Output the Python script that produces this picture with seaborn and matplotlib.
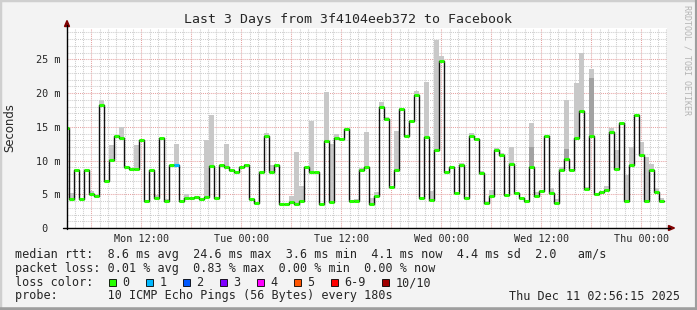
import matplotlib as mpl
mpl.use('Agg')
import matplotlib.pyplot as plt
import matplotlib.dates as mdates
import matplotlib.ticker as mticker
from matplotlib.lines import Line2D
from matplotlib.patches import Rectangle, Polygon
import numpy as np
import pandas as pd
import seaborn as sns

# median rtt per 36 min step (ms)
median_ms = [
    14.75, 4.36, 8.66, 4.36, 8.66, 5.1, 4.7, 18.3, 6.9, 10.05,
    13.7, 13.3, 9.0, 8.7, 8.75, 13.0, 4.06, 8.66, 4.4, 13.3,
    4.06, 9.36, 9.36, 4.06, 4.4, 4.4, 4.6, 4.26, 4.6, 9.16,
    4.4, 9.36, 9.0, 8.66, 8.27, 9.1, 9.4, 4.36, 3.66, 8.37,
    13.7, 8.27, 9.3, 3.6, 3.6, 3.9, 3.6, 4.06, 9.0, 8.27,
    8.27, 3.6, 12.9, 3.8, 13.4, 13.2, 14.7, 3.96, 4.06, 8.66,
    9.0, 3.6, 4.8, 18.0, 16.2, 6.1, 8.66, 17.6, 13.7, 15.8,
    19.75, 4.4, 13.5, 4.1, 11.6, 24.7, 8.27, 9.0, 5.15, 9.36,
    4.4, 13.7, 13.2, 8.2, 3.66, 4.7, 11.5, 10.8, 4.9, 9.55,
    5.15, 4.4, 3.96, 9.0, 4.8, 5.5, 13.6, 5.15, 3.66, 8.66,
    10.2, 8.66, 13.3, 17.3, 5.8, 13.7, 5.0, 5.3, 5.7, 14.3,
    8.7, 15.5, 4.06, 9.3, 16.7, 10.8, 4.06, 8.66, 5.35, 4.06,
]

# top of the light smoke (slowest ping), None where there is none
smoke_top_ms = [
    None, 5.15, 8.8, None, None, 5.5, None, 18.9, None, 12.3,
    None, 15.0, None, None, 12.3, None, None, None, 4.9, None,
    4.3, None, 12.5, None, 5.0, None, None, None, 13.07, 16.8,
    None, None, 12.5, None, None, None, 9.55, None, None, None,
    14.06, 9.36, None, None, None, 4.7, 11.3, 6.2, None, 15.8,
    None, None, 20.2, 12.5, 14.0, None, None, None, 4.3, 8.86,
    14.2, 4.5, 5.35, 18.7, 16.5, None, 14.4, 17.8, None, None,
    20.3, None, 21.7, 5.5, 27.8, 25.5, None, None, None, 9.7,
    None, 14.06, None, 8.47, 4.06, 5.6, 11.9, 11.1, None, 12.0,
    None, None, None, 15.6, 5.3, None, None, 6.0, 4.3, 9.0,
    18.9, None, 21.5, 26.0, 6.1, 23.6, None, None, 6.2, 14.8,
    11.6, 15.7, 7.9, 12.0, None, 12.8, 10.5, 9.45, 6.0, 4.45,
]

# darker inner smoke, only visible on a few steps
smoke_dark_ms = [None] * 93 + [12.0] + [None] * 6 + [11.7] + [None] * 4 + [22.3] + [None] * 14

# lost pings out of 10 per step
loss_pings = [0] * 22 + [1] + [0] * 97

loss_labels = ['0', '1', '2', '3', '4', '5', '6-9', '10/10']
loss_colors = ['#26ff00', '#00b8ff', '#0059ff', '#7e00ff', '#ff00ff', '#ff5500', '#ff0000', '#a10000']

step_end = pd.date_range('2025-12-08 03:20', periods=len(median_ms), freq='36min')
view_start = pd.Timestamp('2025-12-08 03:04')
view_end = view_start + pd.Timedelta(hours=72)

title = 'Last 3 Days from 3f4104eeb372 to Facebook'
row_rtt = 'median rtt:  8.6 ms avg  24.6 ms max  3.6 ms min  4.1 ms now  4.4 ms sd  2.0   am/s'
row_loss = 'packet loss: 0.01 % avg  0.83 % max  0.00 % min  0.00 % now'
row_probe = 'probe:       10 ICMP Echo Pings (56 Bytes) every 180s'
stamp = 'Thu Dec 11 02:56:15 2025'

W, H = 697, 310
MONO = 'DejaVu Sans Mono'


def fx(x):
    return x / W


def fy(y):
    return 1 - y / H


sns.set_style('white')
plt.rcParams['font.family'] = ['DejaVu Sans Mono', 'DejaVu Sans']

fig = plt.figure(figsize=(W / 100, H / 100), dpi=100, facecolor='#f3f3f3')
ax = fig.add_axes([fx(67), fy(228), 600 / W, 200 / H])
ax.set_facecolor('white')

x_end = mdates.date2num(step_end.to_pydatetime())
step = 36 / 1440
x_start = x_end - step
med = np.array(median_ms)

top = np.array([np.nan if v is None else v for v in smoke_top_ms])
has = ~np.isnan(top)
ax.bar(x_start[has], top[has] - med[has], bottom=med[has], width=step, align='edge',
       color='#c8c8c8', linewidth=0, zorder=2)
dark = np.array([np.nan if v is None else v for v in smoke_dark_ms])
hd = ~np.isnan(dark)
ax.bar(x_start[hd], dark[hd] - med[hd], bottom=med[hd], width=step, align='edge',
       color='#a2a2a2', linewidth=0, zorder=2)

sns.lineplot(x=np.r_[x_start[0], x_end], y=np.r_[med[0], med], drawstyle='steps-pre',
             color='#111111', linewidth=1.0, estimator=None, ax=ax, zorder=3)

def loss_color(n):
    if n <= 5:
        return loss_colors[n]
    return loss_colors[6] if n < 10 else loss_colors[7]

ax.hlines(med, x_start, x_end, colors=[loss_color(n) for n in loss_pings], linewidth=2.2, zorder=4)

ax.set_xlim(mdates.date2num(view_start.to_pydatetime()), mdates.date2num(view_end.to_pydatetime()))
ax.set_ylim(0, 29.64)
ax.set_xlabel('')
ax.set_ylabel('')

ax.xaxis.set_major_locator(mdates.HourLocator(byhour=[0, 6, 12, 18]))
ax.xaxis.set_minor_locator(mdates.HourLocator())
ax.xaxis.set_major_formatter(mticker.FuncFormatter(
    lambda v, p: mdates.num2date(v).strftime('%a %H:%M') if mdates.num2date(v).hour % 12 == 0 else ''))

yt = [0, 5, 10, 15, 20, 25]
ax.set_yticks(yt)
ax.set_yticklabels([' 0' if v == 0 else f'{v:>2} m' for v in yt], ha='left')
ax.yaxis.set_minor_locator(mticker.MultipleLocator(1))

ax.set_axisbelow(True)
ax.grid(which='major', color='#e6a3a3', linestyle=(0, (1, 1)), linewidth=0.75)
ax.grid(which='minor', color='#cdcdcd', linestyle=(0, (1, 1)), linewidth=0.75)
ax.tick_params(which='major', length=2, color='#e08a8a', labelsize=7.3)
ax.tick_params(axis='x', which='major', pad=2.5)
ax.tick_params(axis='y', which='major', pad=20.3)
ax.tick_params(which='minor', length=1.5, color='#c0c0c0')
for lab in ax.get_xticklabels() + ax.get_yticklabels():
    lab.set_family(MONO)
for s in ax.spines.values():
    s.set_visible(False)

# axes with rrdtool style arrows
fig.add_artist(Line2D([fx(67), fx(67)], [fy(229), fy(25)], color='black', linewidth=1.0))
fig.add_artist(Line2D([fx(63), fx(670)], [fy(228), fy(228)], color='black', linewidth=1.0))
fig.add_artist(Polygon([(fx(64.5), fy(26.5)), (fx(69.5), fy(26.5)), (fx(67), fy(20.5))],
                       closed=True, color='#7f0000'))
fig.add_artist(Polygon([(fx(668.5), fy(225.5)), (fx(668.5), fy(230.5)), (fx(674.5), fy(228))],
                       closed=True, color='#7f0000'))

# frame shading
fig.add_artist(Line2D([0, 0], [0, 1], color='#cfcfcf', linewidth=2.5))
fig.add_artist(Line2D([0, 1], [1, 1], color='#cfcfcf', linewidth=2.5))
fig.add_artist(Line2D([1, 1], [0, 1], color='#9e9e9e', linewidth=3))
fig.add_artist(Line2D([0, 1], [0, 0], color='#9e9e9e', linewidth=4))

fig.text(fx(348.5), fy(19), title, ha='center', va='center', fontsize=9.5, family=MONO)
fig.text(fx(10), fy(128), 'Seconds', rotation=90, ha='center', va='center', fontsize=8.4,
         family='DejaVu Sans')
fig.text(fx(687), fy(5), 'RRDTOOL / TOBI OETIKER', rotation=270, ha='center', va='top',
         fontsize=6, family=MONO, color='#b4b4b4')

fig.text(fx(15), fy(258), row_rtt, ha='left', va='baseline', fontsize=8.5, family=MONO)
fig.text(fx(15), fy(272), row_loss, ha='left', va='baseline', fontsize=8.5, family=MONO)
fig.text(fx(15), fy(286), 'loss color:', ha='left', va='baseline', fontsize=8.5, family=MONO)
fig.text(fx(15), fy(299.5), row_probe, ha='left', va='baseline', fontsize=8.5, family=MONO)
fig.text(fx(680), fy(299.5), stamp, ha='right', va='baseline', fontsize=8.5, family=MONO)

bx = 109.0
for lab, col in zip(loss_labels, loss_colors):
    fig.add_artist(Rectangle((fx(bx), fy(286.3)), 6.7 / W, 7.2 / H, facecolor=col,
                             edgecolor='black', linewidth=0.6))
    fig.text(fx(bx + 13.3), fy(286), lab, ha='left', va='baseline', fontsize=8.5, family=MONO)
    bx += 37 + 7.08 * (len(lab) - 1)

fig.savefig('out.png', dpi=100, facecolor=fig.get_facecolor())
